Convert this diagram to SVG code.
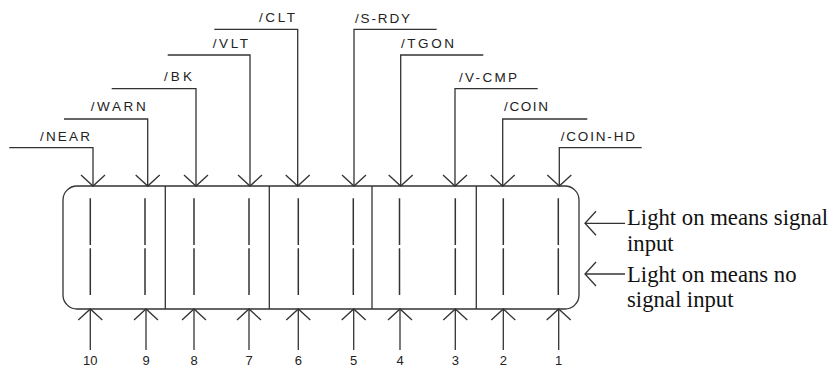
<svg xmlns="http://www.w3.org/2000/svg" width="834" height="369" viewBox="0 0 834 369">
<style>
.ln{fill:none;stroke:#333;stroke-width:1.3}
.led{fill:none;stroke:#333;stroke-width:1.5}
.lbl{font-family:"Liberation Sans",Arial,sans-serif;font-size:13.5px;fill:#222}
.num{font-family:"Liberation Sans",Arial,sans-serif;font-size:13px;fill:#222;text-anchor:middle}
.note{font-family:"Liberation Serif","Times New Roman",serif;font-size:22.7px;fill:#111}
</style>
<defs>
<marker id="arr" markerUnits="userSpaceOnUse" markerWidth="30" markerHeight="30" viewBox="-15 -15 30 30" refX="0" refY="0" orient="auto" overflow="visible">
<path d="M-11,-12 L0,0 L-11,12" fill="none" stroke="#333" stroke-width="1.3"/>
</marker>
</defs>
<rect width="834" height="369" fill="#fff"/>

<g id="display">
<rect class="ln" x="63" y="186" width="516" height="123" rx="14" ry="14"/>
<line class="ln" x1="165.3" y1="186" x2="165.3" y2="309"/>
<line class="ln" x1="269.3" y1="186" x2="269.3" y2="309"/>
<line class="ln" x1="372" y1="186" x2="372" y2="309"/>
<line class="ln" x1="476.3" y1="186" x2="476.3" y2="309"/>
<g id="leds">
<path class="led" d="M90.3,198.3V245M90.3,248.3V295"/>
<path class="led" d="M145,198.3V245M145,248.3V295"/>
<path class="led" d="M194,198.3V245M194,248.3V295"/>
<path class="led" d="M249,198.3V245M249,248.3V295"/>
<path class="led" d="M298.3,198.3V245M298.3,248.3V295"/>
<path class="led" d="M353.3,198.3V245M353.3,248.3V295"/>
<path class="led" d="M399.5,198.3V245M399.5,248.3V295"/>
<path class="led" d="M455.3,198.3V245M455.3,248.3V295"/>
<path class="led" d="M503.3,198.3V245M503.3,248.3V295"/>
<path class="led" d="M558.3,198.3V245M558.3,248.3V295"/>
</g>
</g>

<g id="connectors">
<path class="ln" marker-end="url(#arr)" d="M9.3,147.7H93V186"/>
<path class="ln" marker-end="url(#arr)" d="M64,119H147.7V186"/>
<path class="ln" marker-end="url(#arr)" d="M111.7,88.7H196V186"/>
<path class="ln" marker-end="url(#arr)" d="M167.7,55H250V186"/>
<path class="ln" marker-end="url(#arr)" d="M214.3,29.3H297.7V186"/>
<path class="ln" marker-end="url(#arr)" d="M436.7,29.3H354V186"/>
<path class="ln" marker-end="url(#arr)" d="M483.3,55H400.7V186"/>
<path class="ln" marker-end="url(#arr)" d="M537.7,88.7H455V186"/>
<path class="ln" marker-end="url(#arr)" d="M587.3,119H502.7V186"/>
<path class="ln" marker-end="url(#arr)" d="M641.7,147.7H559.3V186"/>

<path class="ln" marker-end="url(#arr)" d="M90.3,350V309"/>
<path class="ln" marker-end="url(#arr)" d="M146,350V309"/>
<path class="ln" marker-end="url(#arr)" d="M194,350V309"/>
<path class="ln" marker-end="url(#arr)" d="M249,350V309"/>
<path class="ln" marker-end="url(#arr)" d="M298.3,350V309"/>
<path class="ln" marker-end="url(#arr)" d="M353.7,350V309"/>
<path class="ln" marker-end="url(#arr)" d="M400,350V309"/>
<path class="ln" marker-end="url(#arr)" d="M455.3,350V309"/>
<path class="ln" marker-end="url(#arr)" d="M503.3,350V309"/>
<path class="ln" marker-end="url(#arr)" d="M558.7,350V309"/>

<path class="ln" marker-end="url(#arr)" d="M625,223.3H585"/>
<path class="ln" marker-end="url(#arr)" d="M625,274H585"/>
</g>

<g id="signal-labels">
<text class="lbl" x="40" y="141" textLength="50" lengthAdjust="spacing">/NEAR</text>
<text class="lbl" x="90.7" y="110.5" textLength="55" lengthAdjust="spacing">/WARN</text>
<text class="lbl" x="164" y="81" textLength="28" lengthAdjust="spacing">/BK</text>
<text class="lbl" x="212.7" y="48" textLength="35.3" lengthAdjust="spacing">/VLT</text>
<text class="lbl" x="259" y="22" textLength="36" lengthAdjust="spacing">/CLT</text>
<text class="lbl" x="355" y="22.5" textLength="55" lengthAdjust="spacing">/S-RDY</text>
<text class="lbl" x="401" y="47.7" textLength="53" lengthAdjust="spacing">/TGON</text>
<text class="lbl" x="459" y="81.5" textLength="58" lengthAdjust="spacing">/V-CMP</text>
<text class="lbl" x="504" y="111" textLength="44" lengthAdjust="spacing">/COIN</text>
<text class="lbl" x="560.7" y="140.5" textLength="74.3" lengthAdjust="spacing">/COIN-HD</text>
</g>

<g id="numbers">
<text class="num" x="90.3" y="365">10</text>
<text class="num" x="146" y="365">9</text>
<text class="num" x="194" y="365">8</text>
<text class="num" x="249" y="365">7</text>
<text class="num" x="298.3" y="365">6</text>
<text class="num" x="353.7" y="365">5</text>
<text class="num" x="400" y="365">4</text>
<text class="num" x="455.3" y="365">3</text>
<text class="num" x="503.3" y="365">2</text>
<text class="num" x="558.7" y="365">1</text>
</g>

<g id="legend">
<text class="note" x="627" y="225">Light on means signal</text>
<text class="note" x="627" y="251">input</text>
<text class="note" x="627" y="281.5">Light on means no</text>
<text class="note" x="627" y="307">signal input</text>
</g>
</svg>
